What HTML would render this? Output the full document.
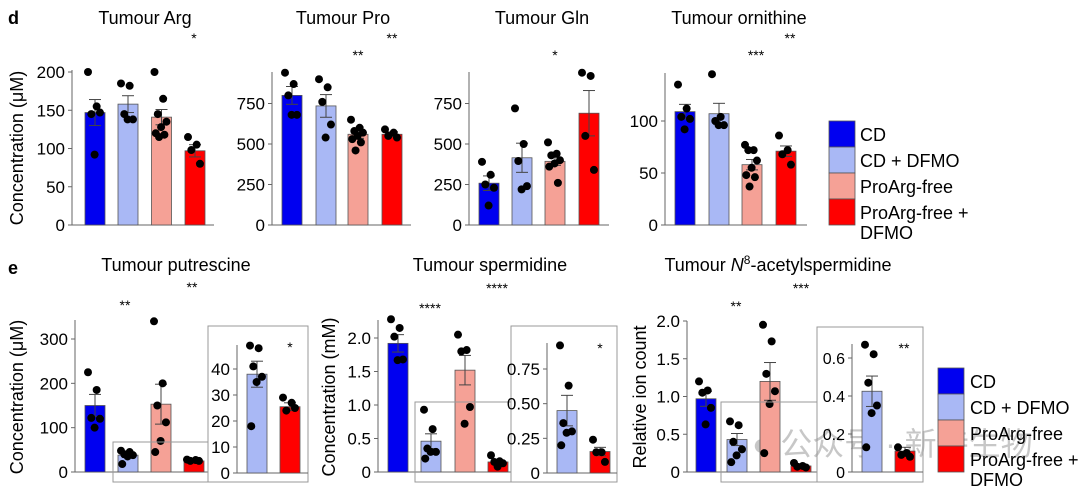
<!DOCTYPE html>
<html><head><meta charset="utf-8">
<style>
html,body{margin:0;padding:0;background:#fff;}
svg{display:block;font-family:"Liberation Sans",Arial,sans-serif;}
</style></head>
<body>
<svg id="s" width="1080" height="494" viewBox="0 0 1080 494" xmlns="http://www.w3.org/2000/svg">
<text x="8" y="24" font-size="18" font-weight="bold">d</text>
<text x="8" y="274" font-size="18" font-weight="bold">e</text>
<text x="145" y="24" font-size="18" text-anchor="middle">Tumour Arg</text>
<text x="343" y="24" font-size="18" text-anchor="middle">Tumour Pro</text>
<text x="542" y="24" font-size="18" text-anchor="middle">Tumour Gln</text>
<text x="739" y="24" font-size="18" text-anchor="middle">Tumour ornithine</text>
<text x="176" y="271" font-size="18" text-anchor="middle">Tumour putrescine</text>
<text x="490" y="271" font-size="18" text-anchor="middle">Tumour spermidine</text>
<text x="778" y="271" font-size="18" text-anchor="middle">Tumour <tspan font-style="italic">N</tspan><tspan font-size="12" dy="-7">8</tspan><tspan dy="7">-acetylspermidine</tspan></text>
<text transform="translate(23,148) rotate(-90)" font-size="18" text-anchor="middle">Concentration (μM)</text>
<text transform="translate(23,397) rotate(-90)" font-size="18" text-anchor="middle">Concentration (μM)</text>
<text transform="translate(335,397) rotate(-90)" font-size="18" text-anchor="middle">Concentration (mM)</text>
<text transform="translate(646,397) rotate(-90)" font-size="18" text-anchor="middle">Relative ion count</text>
<text x="752" y="455" font-size="32" fill="#999" fill-opacity="0.55" font-family="'Liberation Sans','Noto Sans CJK SC',sans-serif">● 公众号 · 新侍生物</text>
<g id="g"></g>
</svg>
<script>
var C=["#0000f0","#a9b8f5","#f5a196","#ff0000"];
var g=document.getElementById("g"),h="";
function chart(o){
 var ppu=o.ppu,b=o.base;
 function Y(v){return b-v*ppu;}
 h+='<line x1="'+o.ax+'" y1="'+o.top+'" x2="'+o.ax+'" y2="'+b+'" stroke="#666" stroke-width="1"/>';
 h+='<line x1="'+o.ax+'" y1="'+b+'" x2="'+o.end+'" y2="'+b+'" stroke="#666" stroke-width="1"/>';
 o.ticks.forEach(function(t){var y=Y(t[0]);
  h+='<line x1="'+(o.ax-4)+'" y1="'+y+'" x2="'+o.ax+'" y2="'+y+'" stroke="#666"/>';
  h+='<text x="'+(o.ax-7)+'" y="'+(y+6)+'" font-size="'+(o.fs||17)+'" text-anchor="end">'+t[1]+'</text>';});
 o.bars.forEach(function(br,i){var x=br[0],w=20,v=br[1],e=br[2],ci=br[3];
  h+='<rect x="'+x+'" y="'+Y(v)+'" width="'+w+'" height="'+(v*ppu)+'" fill="'+C[ci]+'" stroke="#555" stroke-width="0.8"/>';
  var cx=x+w/2;
  h+='<line x1="'+cx+'" y1="'+Y(v+e)+'" x2="'+cx+'" y2="'+Y(v-e)+'" stroke="#444"/>';
  h+='<line x1="'+(cx-6)+'" y1="'+Y(v+e)+'" x2="'+(cx+6)+'" y2="'+Y(v+e)+'" stroke="#444"/>';
  h+='<line x1="'+(cx-6)+'" y1="'+Y(v-e)+'" x2="'+(cx+6)+'" y2="'+Y(v-e)+'" stroke="#444"/>';
  var d=br[4],n=d.length;
  d.forEach(function(p,k){var dx=(n>1)?(-7+14*((k*0.618)%1)):0;
   h+='<circle cx="'+(cx+dx)+'" cy="'+Y(p)+'" r="4" fill="#000"/>';});
 });
}
function star(x,y,s){h+='<text x="'+x+'" y="'+(y+6)+'" font-size="14" text-anchor="middle">'+s+'</text>';}
function box(x1,y1,x2,y2){h+='<rect x="'+x1+'" y="'+y1+'" width="'+(x2-x1)+'" height="'+(y2-y1)+'" fill="none" stroke="#999" stroke-width="1"/>';}
chart({ax:72,base:225,top:70,end:214,ppu:153/200,ticks:[[0,"0"],[50,"50"],[100,"100"],[150,"150"],[200,"200"]],
 bars:[[85,147,17,0,[200,155,145,147,92]],[118,158,11,1,[185,182,145,138,138]],[151.5,141,10,2,[200,165,145,135,128,120,118,115]],[185,97,8,3,[115,105,98,80]]]});
var pp=121.5/750;
chart({ax:272,base:225,top:72,end:411,ppu:pp,ticks:[[0,"0"],[250,"250"],[500,"500"],[750,"750"]],
 bars:[[282,800,55,0,[940,870,800,680,680]],[316,735,70,1,[900,850,760,620,540]],[348,560,25,2,[650,600,580,570,550,530,510,460]],[382,560,15,3,[590,570,550,540]]]});
chart({ax:469,base:225,top:72,end:609,ppu:pp,ticks:[[0,"0"],[250,"250"],[500,"500"],[750,"750"]],
 bars:[[479,258,45,0,[390,310,250,230,120]],[512,415,90,1,[720,500,395,240,220]],[545,393,25,2,[510,440,430,400,380,360,260]],[579,690,140,3,[940,920,550,340]]]});
chart({ax:665,base:225,top:73,end:807,ppu:104/100,ticks:[[0,"0"],[50,"50"],[100,"100"]],
 bars:[[675,109,7,0,[135,112,104,102,92]],[709,107,10,1,[145,104,100,96,96]],[742,58,5,2,[77,72,72,62,55,48,46,37]],[776,71,5,3,[86,72,68,58]]]});
star(194,37,"*");star(358,54,"**");star(392,37,"**");star(555,54,"*");star(756,54,"***");star(790,37,"**");
chart({ax:75,base:472,top:320,end:208,ppu:133/300,ticks:[[0,"0"],[100,"100"],[200,"200"],[300,"300"]],
 bars:[[85,150,25,0,[225,185,122,120,100]],[118,38,5,1,[48,45,40,38,35,18]],[151,153,45,2,[340,200,150,112,70,45]],[184,25,3,3,[28,27,25,25]]]});
box(113,442,208,482);box(208,326,308,482);
chart({ax:237,base:473,top:345,end:308,ppu:104/40,ticks:[[0,"0"],[10,"10"],[20,"20"],[30,"30"],[40,"40"]],
 bars:[[247,38,5,1,[49,48,41,37,35,18]],[280,25.5,1.5,3,[29,27,24,25]]]});
star(125,304,"**");star(192,286,"**");star(290,346,"*");
chart({ax:378,base:472,top:320,end:511,ppu:67,ticks:[[0,"0"],[0.5,"0.5"],[1,"1.0"],[1.5,"1.5"],[2,"2.0"]],
 bars:[[388,1.92,0.13,0,[2.28,2.15,2.02,1.68,1.67]],[421,0.46,0.11,1,[0.93,0.64,0.35,0.3,0.3,0.2]],[455,1.52,0.22,2,[2.05,1.82,1.8,0.97,0.72]],[488,0.15,0.03,3,[0.25,0.16,0.15,0.13,0.08]]]});
box(415,402,511,482);box(511,326,617,482);
chart({ax:547,base:473,top:343,end:617,ppu:104/0.75,ticks:[[0,"0"],[0.25,"0.25"],[0.5,"0.50"],[0.75,"0.75"]],
 bars:[[557,0.45,0.11,1,[0.92,0.63,0.36,0.3,0.29,0.2]],[590,0.155,0.03,3,[0.24,0.15,0.15,0.08]]]});
star(430,307,"****");star(497,287,"****");star(600,347,"*");
chart({ax:687,base:472,top:321,end:817,ppu:75.5,ticks:[[0,"0"],[0.5,"0.5"],[1,"1.0"],[1.5,"1.5"],[2,"2.0"]],
 bars:[[696,0.97,0.1,0,[1.2,1.08,1.05,0.85,0.63]],[727,0.43,0.08,1,[0.67,0.62,0.4,0.3,0.22,0.13]],[760,1.2,0.25,2,[1.95,1.73,1.3,1.07,0.9,0.25]],[791,0.08,0.02,3,[0.12,0.08,0.07,0.06]]]});
box(721,402,817,482);box(817,327,923,482);
chart({ax:852,base:472,top:344,end:923,ppu:114/0.6,fs:16,ticks:[[0,"0"],[0.2,"0.2"],[0.4,"0.4"],[0.6,"0.6"]],
 bars:[[862,0.425,0.08,1,[0.67,0.62,0.47,0.35,0.31,0.13]],[895,0.11,0.02,3,[0.13,0.1,0.09,0.08]]]});
star(736,305,"**");star(801,287,"***");star(904,347,"**");
function legend(x,y,tx){var L=["CD","CD + DFMO","ProArg-free","ProArg-free +"];
 for(var i=0;i<4;i++){h+='<rect x="'+x+'" y="'+(y+26*i)+'" width="26" height="26" fill="'+C[i]+'" stroke="#555" stroke-width="0.8"/>';
  h+='<text x="'+tx+'" y="'+(y+26*i+20)+'" font-size="18">'+L[i]+'</text>';}
 h+='<text x="'+tx+'" y="'+(y+26*4+14)+'" font-size="18">DFMO</text>';}
legend(829,121,860);legend(938,368,970);
g.innerHTML=h;
</script>
</body></html>
